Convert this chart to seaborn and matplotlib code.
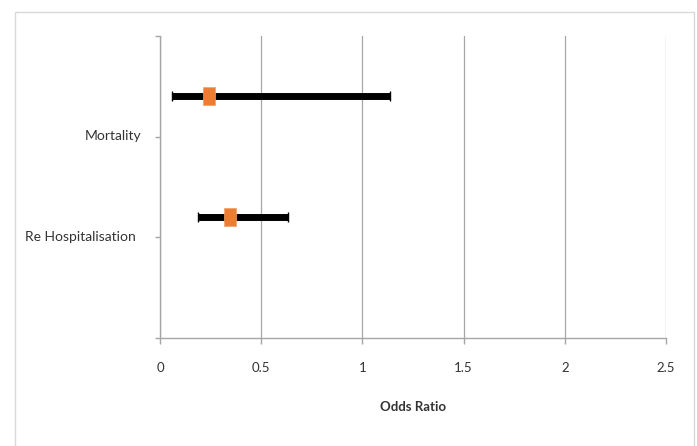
import matplotlib
matplotlib.use("Agg")
import matplotlib.pyplot as plt
import matplotlib.patches as mpatches
import matplotlib.transforms as mtransforms
import seaborn as sns
import pandas as pd

sns.set_style("white")
plt.rcParams["font.family"] = ["Lato", "DejaVu Sans"]

# forest plot values
outcomes = ["Mortality", "Re Hospitalisation"]
odds_ratio = [0.24, 0.345]
ci_low = [0.058, 0.19]
ci_high = [1.136, 0.63]
ypos = [2.4, 1.2]

# category axis ticks
ytick_pos = [0, 1, 2, 3]
ytick_lab = ["", "Re Hospitalisation", "Mortality", ""]
xticks = [0, 0.5, 1, 1.5, 2, 2.5]

df = pd.DataFrame({"outcome": outcomes, "or": odds_ratio,
                   "lo": ci_low, "hi": ci_high, "y": ypos})

grey = "#A6A6A6"
txt = "#333333"

fig = plt.figure(figsize=(6.97, 4.46), dpi=100)
ax = fig.add_axes([160 / 697, 1 - 338 / 446, 506 / 697, 302 / 446])

# confidence intervals
ax.errorbar(df["or"], df["y"],
            xerr=[df["or"] - df["lo"], df["hi"] - df["or"]],
            fmt="none", ecolor="black", elinewidth=5, capsize=3.6,
            capthick=1, zorder=3)

# point estimates
box = [(-1, -1.5), (1, -1.5), (1, 1.5), (-1, 1.5), (-1, -1.5)]
sns.scatterplot(data=df, x="or", y="y", marker=box, s=13 ** 2,
                color="#ED7D31", edgecolor="#F3A06A", linewidth=0.5,
                ax=ax, zorder=4)

ax.set_xlim(0, 2.5)
ax.set_ylim(0, 3)
ax.set_xticks(xticks)
ax.set_xticklabels([f"{t:g}" for t in xticks])
ax.set_yticks(ytick_pos)
ax.set_yticklabels(ytick_lab)

ax.grid(axis="x", color=grey, linewidth=0.9)
ax.grid(axis="y", visible=False)
for s in ["top", "right"]:
    ax.spines[s].set_visible(False)
for s in ["left", "bottom"]:
    ax.spines[s].set_color(grey)
    ax.spines[s].set_linewidth(1)

ax.tick_params(axis="x", direction="out", length=4.3, width=1, color=grey,
               pad=13, labelsize=9.5, labelcolor=txt, bottom=True)
ax.tick_params(axis="y", direction="out", length=3.6, width=1, color=grey,
               pad=9.7, labelsize=10, labelcolor=txt, left=True)

# Excel placed the longer label a little further left
lab = ax.get_yticklabels()[1]
lab.set_transform(lab.get_transform() +
                  mtransforms.ScaledTranslation(-5.5 / 100, 1.5 / 100,
                                                fig.dpi_scale_trans))
lab2 = ax.get_yticklabels()[2]
lab2.set_transform(lab2.get_transform() +
                   mtransforms.ScaledTranslation(0, 2 / 100,
                                                 fig.dpi_scale_trans))

ax.set_xlabel("Odds Ratio", fontsize=9.5, fontweight="bold", color=txt,
              labelpad=19.5)
ax.set_ylabel("")

# chart area border
fig.patches.append(mpatches.Rectangle((15 / 697, -0.02), 679 / 697, 0.993,
                                      transform=fig.transFigure, fill=False,
                                      edgecolor="#D9D9D9", linewidth=1))

fig.savefig("out.png", dpi=100)
